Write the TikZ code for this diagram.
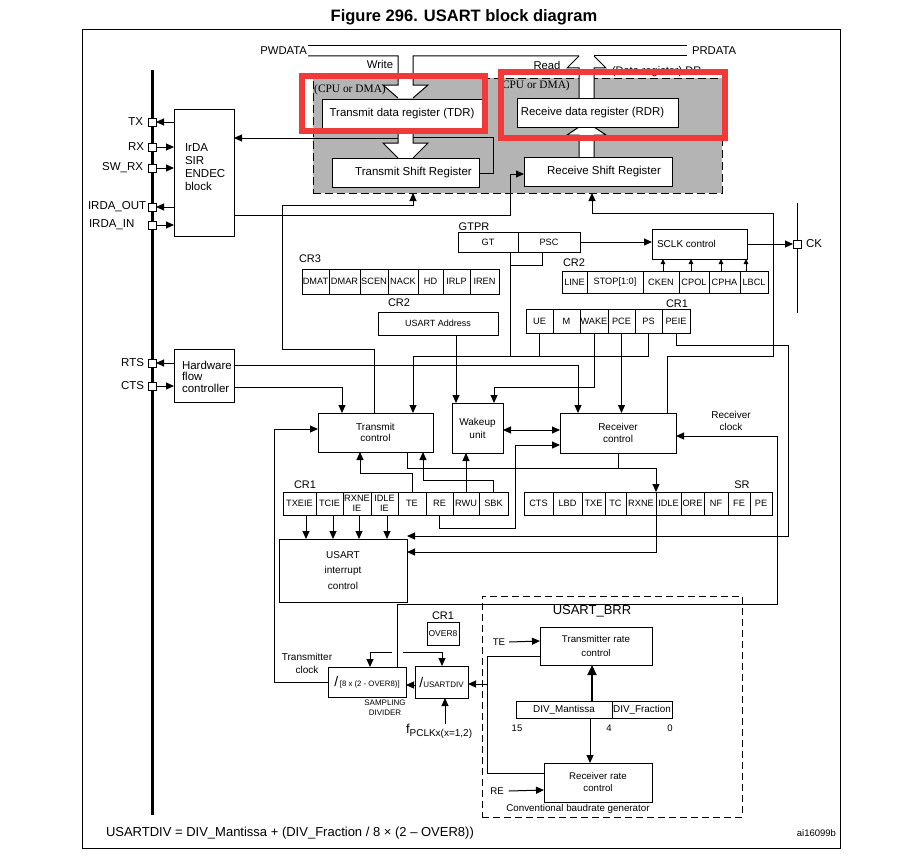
\documentclass[tikz,border=0pt]{standalone}
\usepackage{fontspec}
\setmainfont{Liberation Sans}
\newfontfamily\serfont{Liberation Serif}
\usetikzlibrary{arrows.meta}
\definecolor{hl}{RGB}{240,58,58}
\definecolor{drgray}{RGB}{180,180,180}
\newcommand\fsz[2]{\fontsize{#1}{#2}\selectfont}
\newcommand\bx[7]{\node[#1, anchor=north west, minimum width={(#4)-(#2)}, minimum height={(#5)-(#3)}] (#6) at (#2,#3) {#7};}
\begin{document}
\begin{tikzpicture}[x=1pt,y=-1pt,line width=1pt,
  box/.style={draw,line width=1pt,inner sep=0pt,outer sep=0pt,align=center,fill=white,font=\fsz{10}{11}},
  fld/.style={box,font=\fsz{9.2}{9.5}},
  lbl/.style={inner sep=0pt,outer sep=0pt,align=center},
  pinbox/.style={draw,fill=white,line width=1pt,minimum size=8pt,inner sep=0pt,outer sep=0pt},
  arr/.style={-{Triangle[length=8pt,width=7pt]}},
  sarr/.style={-{Triangle[length=5pt,width=4.5pt]}},
  darr/.style={{Triangle[length=8pt,width=7pt]}-{Triangle[length=8pt,width=7pt]}}]
\fill[white] (0,0) rectangle (902,859);
\useasboundingbox (0,0) rectangle (902,859);

% title and frame
\node[lbl,font=\bfseries\fsz{16.5}{18}] (title) at (464,17) {Figure 296. USART block diagram};
\draw (82,30) rectangle (840,848);

% data register area
\bx{draw,dash pattern=on 8pt off 4pt,fill=drgray,inner sep=0pt,outer sep=0pt}{313}{78}{722}{193}{dr}{}

% buses
\node[lbl,anchor=east,font=\fsz{11.3}{12}] (pw) at (307,51) {PWDATA};
\node[lbl,anchor=west,font=\fsz{11.3}{12}] (pr) at (692,51) {PRDATA};
\draw (308,46) -- (687,46);
\node[lbl,font=\fsz{11.3}{12}] (wr) at (380,64) {Write};
\node[lbl,font=\fsz{11.3}{12}] (rd) at (547,65) {Read};
\node[lbl,anchor=base west,font=\fsz{11}{12}] (drl) at (612,74.5) {(Data register) DR};

% write fat arrow
\fill[white] (398,78) -- (398,85) -- (383,85) -- (398,98) -- (413,98) -- (428,85) -- (413,85) -- (413,78) -- cycle;
\draw (308,56) -- (398,56) -- (398,85) -- (383,85) -- (398,98);
\draw (413,98) -- (428,85) -- (413,85) -- (413,56) -- (579,56);
\draw (594,56) -- (687,56);
% TDR -> TSR fat arrow
\fill[white] (398,128) -- (398,143) -- (383,143) -- (398,158) -- (413,158) -- (428,143) -- (413,143) -- (413,128) -- cycle;
\draw (398,128) -- (398,143) -- (383,143) -- (398,158);
\draw (413,128) -- (413,143) -- (428,143) -- (413,158);
% read fat arrow
\fill[white] (579,98) -- (579,68) -- (567,68) -- (579,56) -- (594,56) -- (606,68) -- (594,68) -- (594,98) -- cycle;
\draw (579,98) -- (579,68) -- (567,68) -- (579,56);
\draw (594,56) -- (606,68) -- (594,68) -- (594,98);
% RSR -> RDR fat arrow
\fill[white] (579,157) -- (579,135) -- (567,135) -- (579,127) -- (594,127) -- (606,135) -- (594,135) -- (594,157) -- cycle;
\draw (579,157) -- (579,135) -- (567,135) -- (579,127);
\draw (594,127) -- (606,135) -- (594,135) -- (594,157);

\bx{box,font=\fsz{11.4}{12}}{322}{99}{482}{128}{tdr}{Transmit data register (TDR)}
\bx{box,font=\fsz{11.4}{12}}{517}{98}{678}{127}{rdr}{Receive data register (RDR)\hspace*{10pt}}
\bx{box,font=\fsz{11.5}{12}}{332}{158}{479}{187}{tsr}{\hspace*{16pt}Transmit Shift Register}
\bx{box,font=\fsz{11.5}{12}}{524}{157}{672}{186}{rsr}{\hspace*{12pt}Receive Shift Register}
\node[lbl,font=\serfont\fsz{11.4}{12}] (cpu1) at (350,90) {(CPU or DMA)};
\node[lbl,font=\serfont\fsz{11.4}{12}] (cpu2) at (534,86) {(CPU or DMA)};

% left bus and pins
\draw[line width=3pt] (152,70) -- (152,815);
\bx{box}{174}{109}{234}{236}{irda}{}
\node[lbl,anchor=west,align=left,font=\fsz{11.5}{13}] (irdat) at (185,167.5) {IrDA\\SIR\\ENDEC\\block};
\bx{box}{174}{349}{234}{402}{hfc}{}
\node[lbl,anchor=west,align=left,font=\fsz{11.5}{11.5}] (hfct) at (182,376.5) {Hardware\\flow\\controller};
\foreach \n/\y in {ptx/122,prx/147,pswrx/168,pirout/207,pirin/225,prts/363,pcts/386}
  {\node[pinbox] (\n) at (152,\y) {};}
\node[lbl,anchor=east,font=\fsz{11.5}{12}] at (143,122) {TX};
\node[lbl,anchor=east,font=\fsz{11.5}{12}] at (144,147) {RX};
\node[lbl,anchor=east,font=\fsz{11.5}{12}] at (143,168) {SW\_RX};
\node[lbl,anchor=west,font=\fsz{11.5}{12}] at (88,207) {IRDA\_OUT};
\node[lbl,anchor=west,font=\fsz{11.5}{12}] at (89,225) {IRDA\_IN};
\node[lbl,anchor=east,font=\fsz{11.5}{12}] at (144,363) {RTS};
\node[lbl,anchor=east,font=\fsz{11.5}{12}] at (144,386) {CTS};
\draw[arr] (irda.west |- ptx) -- (ptx.east);
\draw[arr] (prx.east) -- (irda.west |- prx);
\draw[arr] (pswrx.east) -- (irda.west |- pswrx);
\draw[arr] (irda.west |- pirout) -- (pirout.east);
\draw[arr] (pirin.east) -- (irda.west |- pirin);
\draw[arr] (hfc.west |- prts) -- (prts.east);
\draw[arr] (pcts.east) -- (hfc.west |- pcts);

% registers
\node[lbl,font=\fsz{11}{12}] at (474,227) {GTPR};
\foreach \a/\b/\n/\t in {458/518/gt/GT, 518/580/psc/PSC}
  {\bx{fld}{\a}{232}{\b}{252}{\n}{\t}}
\node[lbl,font=\fsz{11}{12}] at (310,259) {CR3};
\foreach \a/\b/\n/\t in {302/329/dmat/DMAT, 329/360/dmar/DMAR, 360/388/scen/SCEN, 388/418/nack/NACK, 418/443/hd/HD, 443/470/irlp/IRLP, 470/499/iren/IREN}
  {\bx{fld}{\a}{269}{\b}{294}{\n}{\t}}
\node[lbl,font=\fsz{11}{12}] at (574,263) {CR2};
\foreach \a/\b/\n/\t in {562/587/line/LINE, 587/643/stop/STOP[1:0], 643/679/cken/CKEN, 679/709/cpol/CPOL, 709/740/cpha/CPHA, 740/768/lbcl/LBCL}
  {\bx{fld}{\a}{271}{\b}{293}{\n}{\t}}
\node[lbl,font=\fsz{11}{12}] at (677,304) {CR1};
\foreach \a/\b/\n/\t in {526/553/ue/UE, 553/580/mfld/M, 580/608/wake/WAKE, 608/635/pce/PCE, 635/662/ps/PS, 662/690/peie/PEIE}
  {\bx{fld}{\a}{309}{\b}{333}{\n}{\t}}
\node[lbl,font=\fsz{11}{12}] at (399,303) {CR2};
\bx{box,font=\fsz{9}{10}}{378}{312}{498}{335}{addr}{USART Address}
\node[lbl,font=\fsz{11}{12}] at (305,485) {CR1};
\foreach \a/\b/\n/\t in {283/316/txeie/TXEIE, 316/343/tcie/TCIE, 343/371/rxneie/{RXNE\\IE}, 371/398/idleie/{IDLE\\IE}, 398/426/te/TE, 426/453/re/RE, 453/479/rwu/RWU, 479/508/sbk/SBK}
  {\bx{fld}{\a}{492}{\b}{515}{\n}{\t}}
\node[lbl,font=\fsz{11}{12}] at (742,485) {SR};
\foreach \a/\b/\n/\t in {524/553/cts/CTS, 553/582/lbd/LBD, 582/605/txe/TXE, 605/626/tcf/TC, 626/656/rxne/RXNE, 656/681/idle/IDLE, 681/704/ore/ORE, 704/728/nf/NF, 728/750/fe/FE, 750/772/pe/PE}
  {\bx{fld}{\a}{492}{\b}{515}{\n}{\t}}

% blocks
\bx{box,font=\fsz{10}{11}}{652}{229}{747}{259}{sclk}{SCLK control\hspace*{26pt}}
\bx{box,font=\fsz{10}{11.5}}{318}{413}{433}{452}{txc}{Transmit\\control}
\bx{box,font=\fsz{10}{13}}{452}{403}{503}{453}{wu}{Wakeup\\unit}
\bx{box,font=\fsz{10}{12.5}}{560}{413}{676}{453}{rxc}{Receiver\\control}
\bx{box,font=\fsz{10}{15.5}}{279}{539}{407}{602}{ic}{USART\\interrupt\\control}
\node[lbl,font=\fsz{11}{12}] at (443,616) {CR1};
\bx{box,font=\fsz{8.5}{9}}{427}{622}{459}{645}{ov}{OVER8}
\bx{box}{328}{667}{406}{697}{sd}{{\fsz{14}{14}/}\,{\fsz{7.8}{8}[8 x (2 - OVER8)]}}
\bx{box}{415}{666}{468}{698}{ud}{{\fsz{14}{14}/}{\fsz{8}{8}USARTDIV}}
\node[lbl,font=\fsz{8}{10}] at (385,708) {SAMPLING\\DIVIDER};
\node[lbl,font=\fsz{10}{13}] at (307,663) {Transmitter\\clock};
\node[lbl,font=\fsz{10}{11.5}] at (731,421) {Receiver\\clock};
\node[lbl,anchor=west] (fp) at (406,731) {\fsz{13}{13}f\raisebox{-3pt}{\fsz{10}{10}PCLKx(x=1,2)}};

% CK
\draw (797,203) -- (797,313);
\node[pinbox] (pck) at (797,244) {};
\node[lbl,anchor=west,font=\fsz{11.5}{12}] at (806,244) {CK};

% BRR
\bx{draw,dash pattern=on 7pt off 4pt,inner sep=0pt,outer sep=0pt}{482}{596}{742}{817}{brr}{}
\node[lbl,font=\fsz{13}{14}] at (592,611) {USART\_BRR};
\bx{box,font=\fsz{9.7}{14}}{540}{627}{652}{665}{trc}{Transmitter rate\\control}
\bx{box,font=\fsz{9.9}{10}}{516}{701}{612}{718}{man}{DIV\_Mantissa}
\bx{box,font=\fsz{9.9}{10}}{612}{701}{672}{718}{fra}{DIV\_Fraction}
\bx{box,font=\fsz{9.7}{12}}{544}{763}{652}{802}{rrc}{Receiver rate\\control}
\node[lbl,font=\fsz{9.7}{10}] (telbl) at (499,642) {TE};
\node[lbl,font=\fsz{9.7}{10}] (relbl) at (497,791) {RE};
\node[lbl,font=\fsz{9.5}{10}] at (517,728) {15};
\node[lbl,font=\fsz{9.5}{10}] at (609,728) {4};
\node[lbl,font=\fsz{9.5}{10}] at (670,728) {0};
\node[lbl,font=\fsz{9.8}{10}] at (578,809) {Conventional baudrate generator};

% bottom texts
\node[lbl,anchor=west,font=\fsz{13}{14}] at (106,833) {USARTDIV = DIV\_Mantissa + (DIV\_Fraction / 8 × (2 – OVER8))};
\node[lbl,anchor=east,font=\fsz{9.5}{10}] at (836,833) {ai16099b};

% ---------- connectors ----------
\draw[arr] (398,138) -- (irda.east |- 0,138);
\draw (413,137) -- (493,137) -- (493,173) -- (tsr.east |- 0,173);
\draw[arr] (irda.east |- 0,215) -- (510,215) -- (510,174) -- (rsr.west |- 0,174);
\draw[arr] (374,0 |- txc.north) -- (374,349) -- (282,349) -- (282,205) -- (413,205) -- (413,0 |- dr.south);
\draw[arr] (667,0 |- rxc.north) -- (667,356) -- (773,356) -- (773,213) -- (592,213) -- (592,0 |- dr.south);
\draw[arr] (psc.east) -- (psc.east -| sclk.west);
\draw[arr] (sclk.east |- pck) -- (pck.west);
\foreach \x in {663,691,721,746} {\draw[sarr] (\x,0 |- cken.north) -- (\x,0 |- sclk.south);}
\draw (510,0 |- gt.south) -- (510,356);
\draw (542,0 |- psc.south) -- (542,265) -- (510,265);
\draw (413,356) -- (ps.south |- 0,356);
\draw (ue.south) -- (ue.south |- 0,356);
\draw (ps.south) -- (ps.south |- 0,356);
\draw[arr] (413,356) -- (413,0 |- txc.north);
\draw[arr] (wake.south) -- (wake.south |- 0,387) -- (494,387) -- (494,0 |- wu.north);
\draw[arr] (pce.south) -- (pce.south |- rxc.north);
\draw[arr] (peie.south) -- (peie.south |- 0,345) -- (788,345) -- (788,536) -- (ic.east |- 0,536);
\draw[arr] (456,0 |- addr.south) -- (456,0 |- wu.north);
\draw[arr] (hfc.east |- 0,365) -- (578,365) -- (578,0 |- rxc.north);
\draw[arr] (hfc.east |- 0,387) -- (342,387) -- (342,0 |- txc.north);
\draw[darr] (wu.east |- 0,430) -- (rxc.west |- 0,430);
\draw[arr] (re.south) -- (re.south |- 0,528) -- (515,528) -- (515,445) -- (rxc.west |- 0,445);
\draw[arr] (397,0 |- sd.north) -- (397,604) -- (777,604) -- (777,436) -- (rxc.east |- 0,436);
\draw[arr] (sd.west |- 0,682) -- (274,682) -- (274,429) -- (txc.west |- 0,429);
\draw[arr] (te.north) -- (te.north |- 0,473) -- (360,473) -- (360,0 |- txc.south);
\draw[arr] (sbk.north) -- (sbk.north |- 0,480) -- (423,480) -- (423,0 |- txc.south);
\draw[arr] (rwu.north) -- (rwu.north |- wu.south);
\draw[arr] (407,0 |- txc.south) -- (407,468) -- (656,468) -- (rxne.north east);
\draw (rxc.south) -- (rxc.south |- 0,468);
\draw[arr] (rxne.south east) -- (656,552) -- (ic.east |- 0,552);
\foreach \x in {306,333,359,387} {\draw[arr] (\x,0 |- txeie.south) -- (\x,0 |- ic.north);}
\draw[arr] (ud.west |- 0,685) -- (sd.east |- 0,685);
\draw[arr] (392,652) -- (370,652) -- (370,0 |- sd.north);
\draw[arr] (403,652) -- (442,652) -- (442,0 |- ud.north);
\draw[arr] (445,0 |- fp.north) -- (445,0 |- ud.south);
\draw[arr] (487,684) -- (ud.east |- 0,684);
\draw (trc.west |- 0,656) -- (487,656) -- (487,773) -- (rrc.west |- 0,773);
\draw[arr] (telbl.east) ++(4,0) -- (trc.west |- 0,641);
\draw[arr] (relbl.east) ++(5,0) -- (rrc.west |- 0,790);
\draw[line width=2.2pt,-{Triangle[length=10pt,width=9pt]}] (592,0 |- man.north) -- (592,0 |- trc.south);
\draw[arr] (590,0 |- man.south) -- (590,0 |- rrc.north);

% highlight boxes
\draw[draw=hl,line width=6pt] (301.5,76) rectangle (485,131);
\draw[draw=hl,line width=6pt] (500.5,72.5) rectangle (724.5,138);
\end{tikzpicture}
\end{document}
